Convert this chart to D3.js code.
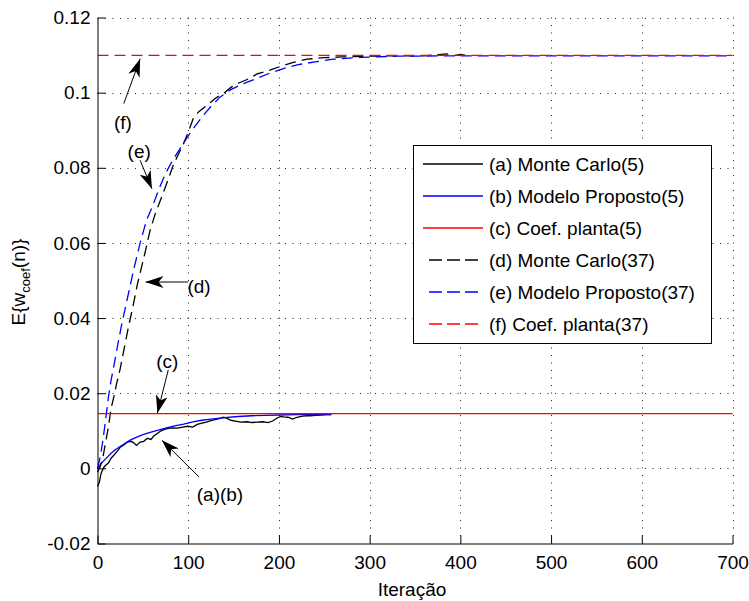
<!DOCTYPE html>
<html>
<head>
<meta charset="utf-8">
<script src="https://cdn.jsdelivr.net/npm/d3@7"></script>
<style>
  html, body { margin: 0; padding: 0; background: #fff; }
  svg { display: block; }
  text { font-family: "Liberation Sans", Arial, Helvetica, sans-serif; fill: #000; }
</style>
</head>
<body>
<svg id="chart" width="749" height="601"></svg>
<script>
// ---------------- DATA ----------------
const xTicks = [0, 100, 200, 300, 400, 500, 600, 700];
const xTickLabels = ["0", "100", "200", "300", "400", "500", "600", "700"];
const yTicks = [-0.02, 0, 0.02, 0.04, 0.06, 0.08, 0.1, 0.12];
const yTickLabels = ["-0.02", "0", "0.02", "0.04", "0.06", "0.08", "0.1", "0.12"];

const xLabel = "Iteração";

// (a) Monte Carlo(5)
const nA = [0, 2, 4, 7, 9, 12, 15, 18, 21, 25, 29, 33, 37, 40, 43, 47, 51, 55, 59, 62, 66, 70, 74, 77, 82, 88, 94, 99, 105, 110, 114, 120, 126, 132, 139, 143, 147, 152, 158, 165, 170, 176, 182, 188, 193, 198, 202, 205, 210, 215, 220, 226, 231, 235, 240, 246, 252, 257];
const vA = [-0.0048, -0.0037, -0.0013, 0.0003, 0.0008, 0.0014, 0.0027, 0.0035, 0.0043, 0.0056, 0.0062, 0.0070, 0.0072, 0.0068, 0.0061, 0.0070, 0.0072, 0.0080, 0.0077, 0.0086, 0.0093, 0.0100, 0.0104, 0.0106, 0.0108, 0.0107, 0.0110, 0.0112, 0.0110, 0.0117, 0.0120, 0.0123, 0.0128, 0.0131, 0.0136, 0.0133, 0.0128, 0.0126, 0.0123, 0.0124, 0.0122, 0.0123, 0.0124, 0.0122, 0.0126, 0.0134, 0.0138, 0.0137, 0.0136, 0.0131, 0.0136, 0.0139, 0.0140, 0.0140, 0.0141, 0.0142, 0.0143, 0.0143];

// (b) Modelo Proposto(5)
const nB = [0, 3, 6, 10, 15, 20, 25, 30, 36, 42, 50, 58, 66, 75, 85, 95, 105, 115, 125, 140, 155, 170, 185, 200, 220, 240, 258];
const vB = [0, 0.0010, 0.0018, 0.0028, 0.0040, 0.0050, 0.0058, 0.0066, 0.0075, 0.0082, 0.0090, 0.0096, 0.0101, 0.0107, 0.0113, 0.0118, 0.0124, 0.0128, 0.0131, 0.0135, 0.0138, 0.0140, 0.0141, 0.0142, 0.0143, 0.0143, 0.0143];

// (c) Coef. planta(5)
const nC = [0, 700];
const vC = [0.01455, 0.01455];

// (d) Monte Carlo(37)
const nD = [0, 3, 6, 9, 12, 15, 18, 21, 25, 29, 34, 39, 44, 49, 53, 58, 64, 72, 78, 84, 90, 95, 100, 106, 112, 120, 130, 140, 147, 155, 165, 176, 190, 202, 215, 231, 250, 270, 300, 330, 360, 375, 385, 392, 400, 410];
const vD = [-0.001, 0.0005, 0.0030, 0.0070, 0.0110, 0.0160, 0.0190, 0.0225, 0.0265, 0.0314, 0.0375, 0.0430, 0.0490, 0.0540, 0.0580, 0.0634, 0.0680, 0.0730, 0.0770, 0.0810, 0.0840, 0.0865, 0.0895, 0.0934, 0.0950, 0.0965, 0.0985, 0.1000, 0.1014, 0.1025, 0.1035, 0.1050, 0.1060, 0.1070, 0.1080, 0.1089, 0.1093, 0.1095, 0.1097, 0.1098, 0.1098, 0.1101, 0.1103, 0.1098, 0.1102, 0.1098];

// (e) Modelo Proposto(37)
const nE = [0, 3, 6, 9, 12, 15, 18, 22, 26, 30, 35, 40, 47, 54, 61, 68, 75, 84, 92, 100, 108, 116, 125, 135, 147, 160, 176, 190, 205, 220, 240, 260, 290, 330, 400, 500, 600, 700];
const vE = [0, 0.0030, 0.0075, 0.0130, 0.0189, 0.0235, 0.0272, 0.0325, 0.0375, 0.0420, 0.0475, 0.0530, 0.0600, 0.0660, 0.0700, 0.0745, 0.0785, 0.0825, 0.0855, 0.0885, 0.0912, 0.0938, 0.0963, 0.0988, 0.1008, 0.1023, 0.1038, 0.1052, 0.1064, 0.1074, 0.1082, 0.1089, 0.1094, 0.1097, 0.1098, 0.1098, 0.1098, 0.1098];

// (f) Coef. planta(37)
const nF = [0, 700];
const vF = [0.1099, 0.1099];

const seriesNames = ["(a) Monte Carlo(5)", "(b) Modelo Proposto(5)", "(c) Coef. planta(5)",
                     "(d) Monte Carlo(37)", "(e) Modelo Proposto(37)", "(f) Coef. planta(37)"];
const seriesColors = ["#000000", "#0000ff", "#ff0000", "#000000", "#0000ff", "#ff0000"];
const seriesDashed = [false, false, false, true, true, true];
const seriesN = [nA, nB, nC, nD, nE, nF];
const seriesV = [vA, vB, vC, vD, vE, vF];

// annotations: label position and arrow tail -> tip, in data units (iteration, value)
const annoLabels = ["(f)", "(e)", "(d)", "(c)", "(a)(b)"];
const annoText = [[28, 0.0922], [46, 0.0845], [112, 0.0484], [77, 0.0285], [135, -0.0068]];
const annoTail = [[29, 0.0971], [47, 0.0820], [100, 0.0496], [78, 0.0262], [112, -0.0023]];
const annoTip = [[47, 0.1090], [60, 0.0744], [53, 0.0496], [66, 0.0147], [71, 0.0075]];

// ---------------- CHART ----------------
const svg = d3.select("#chart");
const x = d3.scaleLinear().domain([0, 700]).range([97.5, 732.5]);
const y = d3.scaleLinear().domain([-0.02, 0.12]).range([543.5, 17.5]);
const FS = 19;

// grid
const grid = svg.append("g");
grid.selectAll("line.gx").data(xTicks.filter(d => d > 0)).join("line")
  .attr("x1", d => Math.round(x(d)) + 0.5).attr("x2", d => Math.round(x(d)) + 0.5)
  .attr("y1", y(0.12)).attr("y2", y(-0.02))
  .attr("stroke", "#222").attr("stroke-width", 1).attr("stroke-dasharray", "1,6.5");
grid.selectAll("line.gy").data(yTicks.filter(d => d > -0.02)).join("line")
  .attr("y1", d => Math.round(y(d)) + 0.5).attr("y2", d => Math.round(y(d)) + 0.5)
  .attr("x1", x(0)).attr("x2", x(700))
  .attr("stroke", "#222").attr("stroke-width", 1).attr("stroke-dasharray", "1,6.5");

// axes
const xAxis = d3.axisBottom(x).tickValues(xTicks).tickFormat((d, i) => xTickLabels[i])
  .tickSizeInner(-8).tickSizeOuter(0).tickPadding(12);
const yAxis = d3.axisLeft(y).tickValues(yTicks).tickFormat((d, i) => yTickLabels[i])
  .tickSizeInner(-8).tickSizeOuter(0).tickPadding(7);

const gx = svg.append("g").attr("transform", `translate(0,${y(-0.02)})`).call(xAxis);
const gy = svg.append("g").attr("transform", `translate(${x(0)},0)`).call(yAxis);
[gx, gy].forEach(g => {
  g.selectAll("path.domain").attr("stroke", "#000").attr("stroke-width", 1);
  g.selectAll(".tick line").attr("stroke", "#000");
  g.selectAll(".tick text").attr("font-size", FS).attr("font-family", "Liberation Sans, Arial, sans-serif").attr("fill", "#000");
});

// lines
const lineGen = d3.line().x(d => x(d[0])).y(d => y(d[1]));
const drawOrder = [0, 1, 3, 4, 2, 5];
drawOrder.forEach(i => {
  const pts = seriesN[i].map((n, k) => [n, seriesV[i][k]]);
  svg.append("path").datum(pts)
    .attr("d", lineGen)
    .attr("fill", "none")
    .attr("stroke", seriesColors[i])
    .attr("stroke-width", 1.3)
    .attr("stroke-dasharray", seriesDashed[i] ? "11,6" : null);
});

// annotations
const defs = svg.append("defs");
defs.append("marker").attr("id", "ah").attr("viewBox", "0 0 18 12")
  .attr("refX", 18).attr("refY", 6).attr("markerWidth", 18).attr("markerHeight", 12)
  .attr("markerUnits", "userSpaceOnUse").attr("orient", "auto")
  .append("path").attr("d", "M0,0 L18,6 L0,12 L5,6 Z").attr("fill", "#000");

annoLabels.forEach((lab, i) => {
  svg.append("line")
    .attr("x1", x(annoTail[i][0])).attr("y1", y(annoTail[i][1]))
    .attr("x2", x(annoTip[i][0])).attr("y2", y(annoTip[i][1]))
    .attr("stroke", "#000").attr("stroke-width", 1)
    .attr("marker-end", "url(#ah)");
  svg.append("text")
    .attr("x", x(annoText[i][0])).attr("y", y(annoText[i][1]))
    .attr("dy", "0.35em").attr("text-anchor", "middle")
    .attr("font-size", FS).text(lab);
});

// legend
const lg = svg.append("g");
lg.append("rect").attr("x", 413.5).attr("y", 145.5).attr("width", 298).attr("height", 198)
  .attr("fill", "#fff").attr("stroke", "#000").attr("stroke-width", 1);
seriesNames.forEach((name, i) => {
  const cy = 164 + i * 32;
  lg.append("line")
    .attr("x1", seriesDashed[i] ? 429 : 423).attr("x2", 483)
    .attr("y1", cy).attr("y2", cy)
    .attr("stroke", seriesColors[i]).attr("stroke-width", 1.3)
    .attr("stroke-dasharray", seriesDashed[i] ? "13,5" : null);
  lg.append("text").attr("x", 489).attr("y", cy).attr("dy", "0.35em")
    .attr("font-size", FS).text(name);
});

// axis labels
svg.append("text").attr("x", 412).attr("y", 596).attr("text-anchor", "middle")
  .attr("font-size", FS).text(xLabel);

const yl = svg.append("text").attr("transform", "translate(25,282) rotate(-90)")
  .attr("text-anchor", "middle").attr("font-size", FS);
yl.append("tspan").text("E{w");
yl.append("tspan").attr("font-size", 13).attr("dy", 5).text("coef");
yl.append("tspan").attr("dy", -5).text("(n)}");
</script>
</body>
</html>
